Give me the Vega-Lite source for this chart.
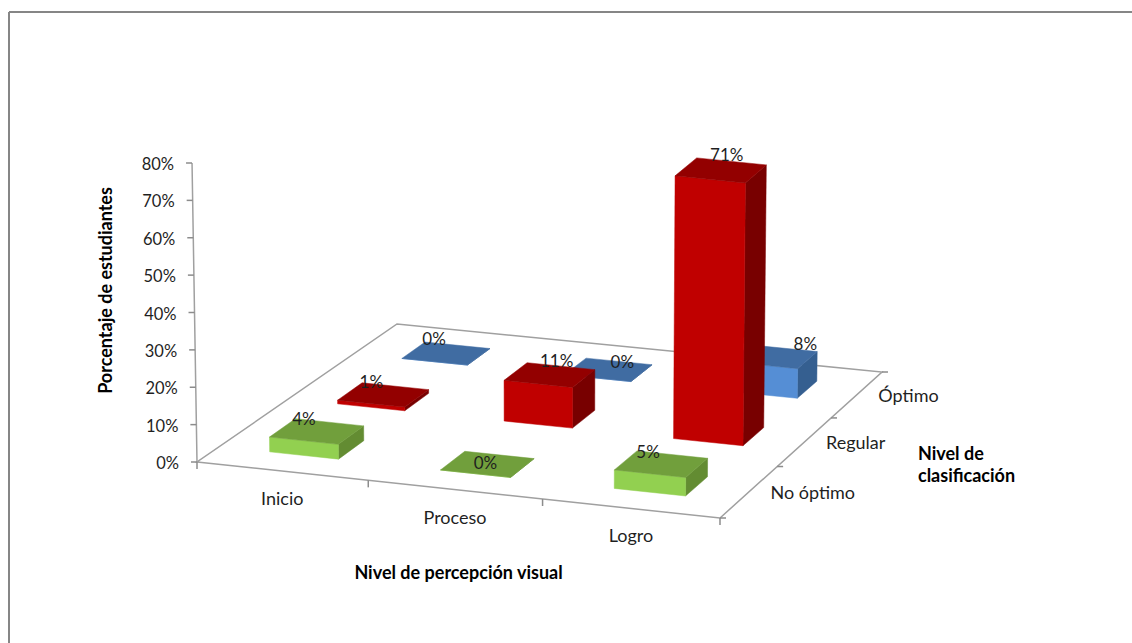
{
  "$schema": "https://vega.github.io/schema/vega-lite/v6.json",
  "width": 1123.5,
  "height": 631.5,
  "padding": {"left": 8.5, "top": 11.5, "right": 0, "bottom": 0},
  "autosize": {"type": "none"},
  "background": "#ffffff",
  "config": {"view": {"stroke": null}, "text": {"font": "Lato", "fontSize": 17, "fill": "#1f1f1f"}},
  "datasets": {
    "barras": [
      {"percepcion": "Inicio", "clasificacion": "Óptimo", "pct": 0},
      {"percepcion": "Proceso", "clasificacion": "Óptimo", "pct": 0},
      {"percepcion": "Logro", "clasificacion": "Óptimo", "pct": 8},
      {"percepcion": "Inicio", "clasificacion": "Regular", "pct": 1},
      {"percepcion": "Proceso", "clasificacion": "Regular", "pct": 11},
      {"percepcion": "Logro", "clasificacion": "Regular", "pct": 71},
      {"percepcion": "Inicio", "clasificacion": "No óptimo", "pct": 4},
      {"percepcion": "Proceso", "clasificacion": "No óptimo", "pct": 0},
      {"percepcion": "Logro", "clasificacion": "No óptimo", "pct": 5}
    ],
    "piso": [
      {"esquina": 0, "u": 0, "v": 0},
      {"esquina": 1, "u": 1, "v": 0},
      {"esquina": 2, "u": 1, "v": 1},
      {"esquina": 3, "u": 0, "v": 1}
    ],
    "marcas": [
      {"eje": "x", "pos": 0}, {"eje": "x", "pos": 1}, {"eje": "x", "pos": 2}, {"eje": "x", "pos": 3},
      {"eje": "z", "pos": 0}, {"eje": "z", "pos": 1}, {"eje": "z", "pos": 2}, {"eje": "z", "pos": 3}
    ],
    "escala": [
      {"pct": 0}, {"pct": 10}, {"pct": 20}, {"pct": 30}, {"pct": 40},
      {"pct": 50}, {"pct": 60}, {"pct": 70}, {"pct": 80}
    ],
    "categorias": [
      {"eje": "x", "pos": 0, "texto": "Inicio"},
      {"eje": "x", "pos": 1, "texto": "Proceso"},
      {"eje": "x", "pos": 2, "texto": "Logro"},
      {"eje": "z", "pos": 0, "texto": "No óptimo"},
      {"eje": "z", "pos": 1, "texto": "Regular"},
      {"eje": "z", "pos": 2, "texto": "Óptimo"}
    ],
    "tituloProfundidad": [{"texto": "Nivel de\nclasificación"}]
  },
  "encoding": {
    "x": {
      "field": "px",
      "type": "quantitative",
      "scale": {"domain": [8.5, 1132], "nice": false, "zero": false},
      "axis": {
        "orient": "top",
        "title": "Nivel de percepción visual",
        "titleFont": "Lato",
        "titleFontSize": 18,
        "titleFontWeight": "bold",
        "titleColor": "#000000",
        "titleX": 449.5,
        "titleY": 561.5,
        "titleAlign": "center",
        "titleBaseline": "middle",
        "labels": false,
        "ticks": false,
        "grid": false,
        "domainColor": "#868686",
        "domainWidth": 2
      }
    },
    "y": {
      "field": "py",
      "type": "quantitative",
      "scale": {"domain": [643, 11.5], "nice": false, "zero": false},
      "axis": {
        "orient": "left",
        "title": "Porcentaje de estudiantes",
        "titleFont": "Lato",
        "titleFontSize": 18,
        "titleFontWeight": "bold",
        "titleColor": "#000000",
        "titleX": 98,
        "titleY": 278.5,
        "titleAngle": -90,
        "titleAlign": "center",
        "titleBaseline": "middle",
        "labels": false,
        "ticks": false,
        "grid": false,
        "domainColor": "#868686",
        "domainWidth": 2
      }
    }
  },
  "layer": [
    {
      "data": {"name": "piso"},
      "transform": [
        {"calculate": "0", "as": "alt"},
        {"calculate": "1 - 0.02616 * datum.u + 0.08709 * datum.v", "as": "w"},
        {"calculate": "(504.16 * datum.u + 234.57 * datum.v + 197) / datum.w", "as": "px"},
        {"calculate": "(42.45 * datum.u - 109.78 * datum.v + 462) / datum.w", "as": "py"}
      ],
      "mark": {"type": "line", "interpolate": "linear-closed", "stroke": "#a0a0a0", "strokeWidth": 1.5},
      "encoding": {"order": {"field": "esquina"}}
    },
    {
      "data": {"name": "marcas"},
      "transform": [
        {"calculate": "datum.eje === 'x' ? datum.pos / 3 : 1", "as": "u"},
        {"calculate": "datum.eje === 'x' ? 0 : datum.pos / 3", "as": "v"},
        {"calculate": "1 - 0.02616 * datum.u + 0.08709 * datum.v", "as": "w"},
        {"calculate": "(504.16 * datum.u + 234.57 * datum.v + 197) / datum.w", "as": "px"},
        {"calculate": "(42.45 * datum.u - 109.78 * datum.v + 462) / datum.w", "as": "py"},
        {"calculate": "datum.px + (datum.eje === 'z' ? 6 : 0)", "as": "qx"},
        {"calculate": "datum.py + (datum.eje === 'x' ? 7 : 0)", "as": "qy"}
      ],
      "mark": {"type": "rule", "stroke": "#8c8c8c", "strokeWidth": 1.5},
      "encoding": {"x2": {"field": "qx"}, "y2": {"field": "qy"}}
    },
    {
      "data": {"name": "escala"},
      "transform": [
        {"calculate": "datum.pct * 3.7375", "as": "alt"},
        {"calculate": "197 + (197 - 550) * 0.000047 * datum.alt", "as": "px"},
        {"calculate": "462 - datum.alt", "as": "py"}
      ],
      "mark": {"type": "line", "stroke": "#a0a0a0", "strokeWidth": 1.5},
      "encoding": {"order": {"field": "pct"}}
    },
    {
      "data": {"name": "escala"},
      "transform": [
        {"calculate": "datum.pct * 3.7375", "as": "alt"},
        {"calculate": "197 + (197 - 550) * 0.000047 * datum.alt", "as": "px"},
        {"calculate": "462 - datum.alt", "as": "py"},
        {"calculate": "datum.px - 6", "as": "qx"}
      ],
      "mark": {"type": "rule", "stroke": "#8c8c8c", "strokeWidth": 1.5},
      "encoding": {"x2": {"field": "qx"}}
    },
    {
      "data": {"name": "escala"},
      "transform": [
        {"calculate": "datum.pct * 3.7375", "as": "alt"},
        {"calculate": "197 + (197 - 550) * 0.000047 * datum.alt - 18", "as": "px"},
        {"calculate": "462 - datum.alt + 2", "as": "py"},
        {"calculate": "datum.pct + '%'", "as": "etiqueta"}
      ],
      "mark": {"type": "text", "align": "right", "baseline": "middle", "fontSize": 16.5},
      "encoding": {"text": {"field": "etiqueta"}}
    },
    {
      "data": {"name": "categorias"},
      "transform": [
        {"filter": "datum.eje === 'x'"},
        {"calculate": "(datum.pos + 0.5) / 3", "as": "u"},
        {"calculate": "1 - 0.02616 * datum.u", "as": "w"},
        {"calculate": "(504.16 * datum.u + 197) / datum.w", "as": "px"},
        {"calculate": "(42.45 * datum.u + 462) / datum.w + 29", "as": "py"}
      ],
      "mark": {"type": "text", "align": "center", "baseline": "middle", "fontSize": 18},
      "encoding": {"text": {"field": "texto"}}
    },
    {
      "data": {"name": "categorias"},
      "transform": [
        {"filter": "datum.eje === 'z'"},
        {"calculate": "(datum.pos + 0.5) / 3", "as": "v"},
        {"calculate": "1 - 0.02616 + 0.08709 * datum.v", "as": "w"},
        {"calculate": "(504.16 + 234.57 * datum.v + 197) / datum.w + 21.5", "as": "px"},
        {"calculate": "(42.45 - 109.78 * datum.v + 462) / datum.w + 2", "as": "py"}
      ],
      "mark": {"type": "text", "align": "left", "baseline": "middle", "fontSize": 18},
      "encoding": {"text": {"field": "texto"}}
    },
    {
      "data": {"name": "tituloProfundidad"},
      "transform": [
        {"calculate": "(504.16 + 234.57 * 0.5 + 197) / (1 - 0.02616 + 0.08709 * 0.5) + 113.5", "as": "px"},
        {"calculate": "(42.45 - 109.78 * 0.5 + 462) / (1 - 0.02616 + 0.08709 * 0.5) + 13", "as": "py"}
      ],
      "mark": {"type": "text", "align": "left", "baseline": "middle", "fontWeight": "bold", "fontSize": 18, "lineBreak": "\n", "lineHeight": 22, "fill": "#000000"},
      "encoding": {"text": {"field": "texto"}}
    },
    {
      "data": {"name": "barras"},
      "transform": [
        {"calculate": "indexof(['Inicio', 'Proceso', 'Logro'], datum.percepcion)", "as": "i"},
        {"calculate": "indexof(['No óptimo', 'Regular', 'Óptimo'], datum.clasificacion)", "as": "j"},
        {"calculate": "['lado', 'frente', 'tapa']", "as": "cara"},
        {"flatten": ["cara"]},
        {"calculate": "[0, 1, 2, 3]", "as": "vertice"},
        {"flatten": ["vertice"]},
        {"calculate": "{frente: [-1, 1, 1, -1], lado: [1, 1, 1, 1], tapa: [-1, 1, 1, -1]}[datum.cara][datum.vertice]", "as": "su"},
        {"calculate": "{frente: [-1, -1, -1, -1], lado: [-1, 1, 1, -1], tapa: [-1, -1, 1, 1]}[datum.cara][datum.vertice]", "as": "sv"},
        {"calculate": "{frente: [0, 0, 1, 1], lado: [0, 0, 1, 1], tapa: [1, 1, 1, 1]}[datum.cara][datum.vertice]", "as": "sh"},
        {"calculate": "(datum.i + 0.5) / 3 + datum.su * 0.0675", "as": "u"},
        {"calculate": "(datum.j + 0.5) / 3 + datum.sv * 0.0625", "as": "v"},
        {"calculate": "datum.sh * datum.pct * 3.7", "as": "alt"},
        {"calculate": "1 - 0.02616 * datum.u + 0.08709 * datum.v", "as": "w"},
        {"calculate": "(504.16 * datum.u + 234.57 * datum.v + 197) / datum.w", "as": "fx"},
        {"calculate": "(42.45 * datum.u - 109.78 * datum.v + 462) / datum.w", "as": "fy"},
        {"calculate": "datum.fx + (datum.fx - 550) * 0.000047 * datum.alt", "as": "px"},
        {"calculate": "datum.fy - datum.alt", "as": "py"},
        {"calculate": "datum.percepcion + '|' + datum.clasificacion + '|' + datum.cara", "as": "pieza"},
        {"calculate": "datum.clasificacion + '|' + datum.cara", "as": "tono"}
      ],
      "mark": {"type": "line", "interpolate": "linear-closed", "strokeWidth": 0.5},
      "encoding": {
        "detail": {"field": "pieza"},
        "order": {"field": "vertice"},
        "fill": {
          "field": "tono",
          "type": "nominal",
          "legend": null,
          "scale": {
            "domain": ["Óptimo|frente", "Óptimo|tapa", "Óptimo|lado", "Regular|frente", "Regular|tapa", "Regular|lado", "No óptimo|frente", "No óptimo|tapa", "No óptimo|lado"],
            "range": ["#558ed5", "#406ca2", "#355f90", "#c00000", "#930000", "#780000", "#92d050", "#719f3c", "#638c32"]
          }
        },
        "stroke": {
          "field": "tono",
          "type": "nominal",
          "legend": null,
          "scale": {
            "domain": ["Óptimo|frente", "Óptimo|tapa", "Óptimo|lado", "Regular|frente", "Regular|tapa", "Regular|lado", "No óptimo|frente", "No óptimo|tapa", "No óptimo|lado"],
            "range": ["#558ed5", "#406ca2", "#355f90", "#c00000", "#930000", "#780000", "#92d050", "#719f3c", "#638c32"]
          }
        }
      }
    },
    {
      "data": {"name": "barras"},
      "transform": [
        {"calculate": "indexof(['Inicio', 'Proceso', 'Logro'], datum.percepcion)", "as": "i"},
        {"calculate": "indexof(['No óptimo', 'Regular', 'Óptimo'], datum.clasificacion)", "as": "j"},
        {"calculate": "(datum.i + 0.5) / 3", "as": "u"},
        {"calculate": "(datum.j + 0.5) / 3", "as": "v"},
        {"calculate": "datum.pct * 3.7", "as": "alt"},
        {"calculate": "1 - 0.02616 * datum.u + 0.08709 * datum.v", "as": "w"},
        {"calculate": "(504.16 * datum.u + 234.57 * datum.v + 197) / datum.w", "as": "fx"},
        {"calculate": "(42.45 * datum.u - 109.78 * datum.v + 462) / datum.w", "as": "fy"},
        {"calculate": "{'00': [-13, -11], '01': [-12, -12], '02': [-12, -13], '10': [-2, 0], '11': [7, -13], '12': [14, -7], '20': [-13, -11], '21': [8, -14], '22': [32, -12]}[datum.i + '' + datum.j]", "as": "desvio"},
        {"calculate": "datum.fx + datum.desvio[0]", "as": "px"},
        {"calculate": "datum.fy - datum.alt + datum.desvio[1]", "as": "py"},
        {"calculate": "datum.pct + '%'", "as": "etiqueta"}
      ],
      "mark": {"type": "text", "align": "center", "baseline": "middle"},
      "encoding": {"text": {"field": "etiqueta"}}
    }
  ]
}
